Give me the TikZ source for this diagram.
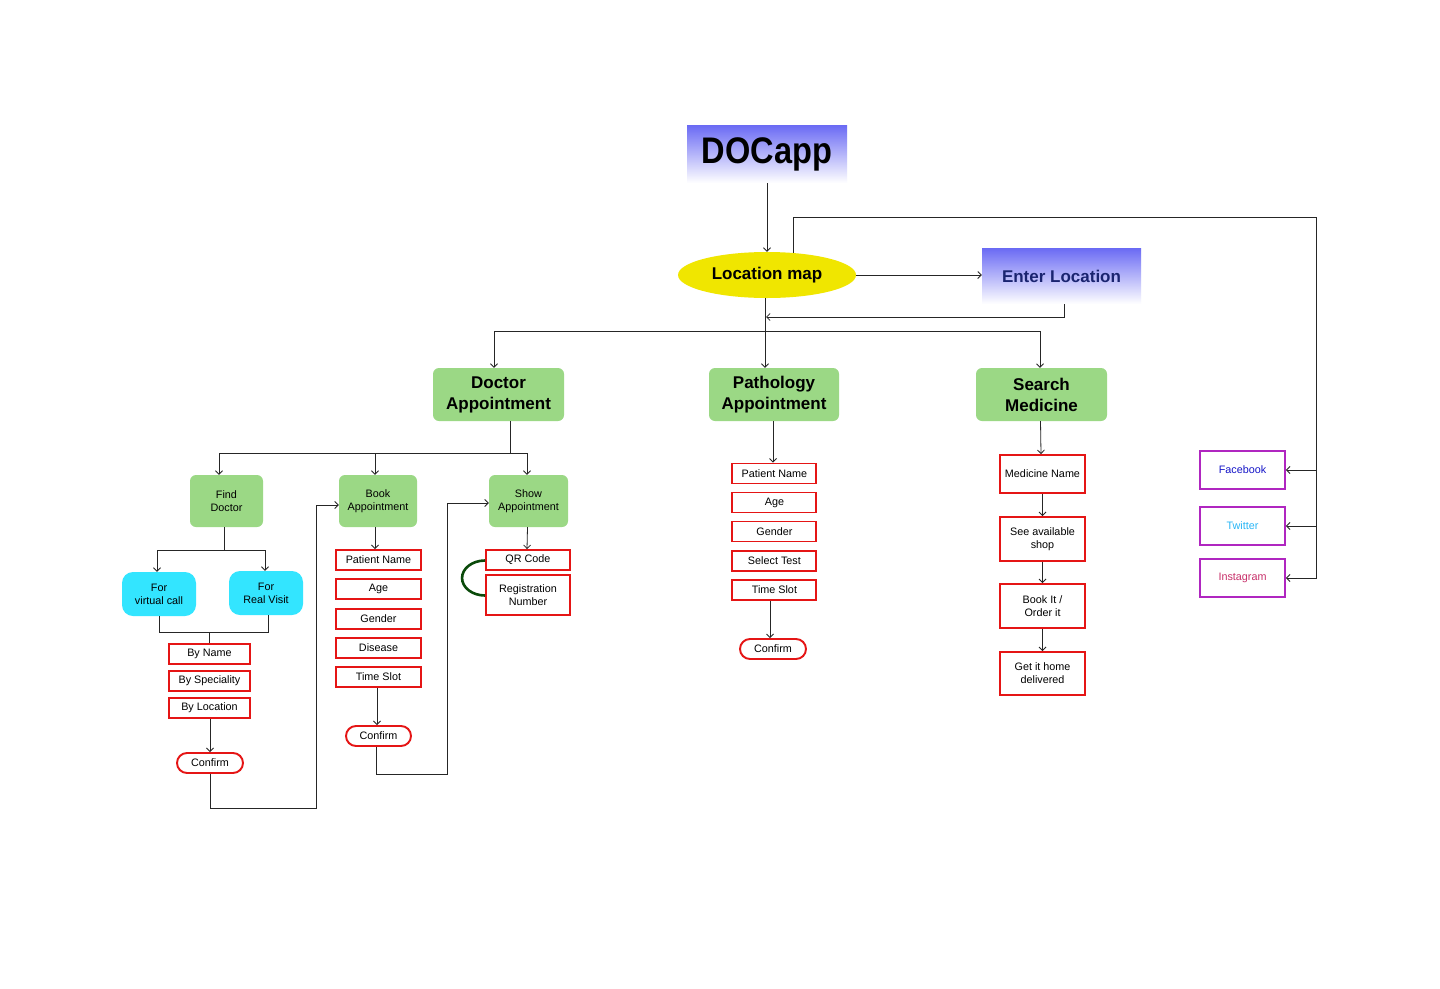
\documentclass[tikz,border=0pt]{standalone}
\usepackage{fontspec}
\setmainfont{Liberation Sans}
\usetikzlibrary{shapes.geometric,arrows.meta}
\definecolor{greenc}{HTML}{9BD885}
\definecolor{cyanc}{HTML}{33E5FF}
\definecolor{redc}{HTML}{E51515}
\definecolor{purpc}{HTML}{B026C0}
\definecolor{yellowc}{HTML}{F0E600}
\definecolor{bluec}{HTML}{6A6AF4}
\definecolor{navyc}{HTML}{1A2470}
\definecolor{fbc}{HTML}{1515C8}
\definecolor{twc}{HTML}{29B6F6}
\definecolor{igc}{HTML}{C8306A}
\definecolor{dgreen}{HTML}{0A4A0A}
\begin{document}
\begin{tikzpicture}[x=1pt,y=-1pt,
  conn/.style={draw=black!85, line width=0.8pt},
  arr/.style={conn, -{Straight Barb[length=3.5pt,width=7pt]}},
  bigtxt/.style={font=\bfseries\fontsize{17}{21}\selectfont},
  smalltxt/.style={font=\fontsize{10.8}{13}\selectfont},
  gradbox/.style={top color=bluec, bottom color=white, middle color=bluec!50, draw=none, inner sep=0, align=center},
  biggreen/.style={fill=greenc, draw=none, rounded corners=6pt, inner sep=0, align=center, bigtxt, minimum width=131pt, minimum height=53pt},
  smallgreen/.style={fill=greenc, draw=none, rounded corners=6pt, inner sep=0, align=center, smalltxt, minimum height=52pt},
  cyanbox/.style={fill=cyanc, draw=none, rounded corners=11pt, inner sep=0, align=center, smalltxt, minimum width=74pt, minimum height=44pt},
  redbox/.style={draw=redc, line width=1.9pt, fill=white, inner sep=0, align=center, smalltxt, minimum height=20pt},
  pill/.style={redbox, rounded corners=10pt, minimum width=66pt},
  social/.style={draw=purpc, line width=1.9pt, fill=white, inner sep=0, align=center, smalltxt, minimum width=85pt, minimum height=38pt}
]
\fill[white] (0,0) rectangle (1440,988);
\useasboundingbox (0,0) rectangle (1440,988);

% top
\node[gradbox, minimum width=160pt, minimum height=58pt, font=\bfseries\fontsize{37}{40}\selectfont] (docapp) at (767,154) {\scalebox{0.88}[1]{DOCapp}};
\node[ellipse, fill=yellowc, draw=none, minimum width=178pt, minimum height=46pt, inner sep=0, bigtxt] (locmap) at (767,275) {Location map};
\node[gradbox, minimum width=159pt, minimum height=56pt, bigtxt, text=navyc] (enterloc) at (1061.5,276) {Enter Location};

% main
\node[biggreen] (docapt) at (498.5,394.5) {Doctor\\Appointment};
\node[biggreen, minimum width=130pt] (pathapt) at (774,394.5) {Pathology\\Appointment};
\node[biggreen] (searchmed) at (1041.5,394.5) {Search\\Medicine};

% doctor sub
\node[smallgreen, minimum width=73pt] (find) at (226.5,501) {Find\\Doctor};
\node[smallgreen, minimum width=78pt] (book) at (378,501) {Book\\Appointment};
\node[smallgreen, minimum width=79pt] (show) at (528.5,501) {Show\\Appointment};

\node[cyanbox] (virt) at (159,594) {For\\virtual call};
\node[cyanbox] (real) at (266,593) {For\\Real Visit};

\node[redbox, minimum width=81pt] (byname) at (209.5,654) {By Name};
\node[redbox, minimum width=81pt] (byspec) at (209.5,681) {By Speciality};
\node[redbox, minimum width=81pt] (byloc) at (209.5,708) {By Location};
\node[pill] (conf1) at (210,763) {Confirm};

\node[redbox, minimum width=85pt] (bpn) at (378.5,560) {Patient Name};
\node[redbox, minimum width=85pt] (bage) at (378.5,589) {Age};
\node[redbox, minimum width=85pt] (bgen) at (378.5,619) {Gender};
\node[redbox, minimum width=85pt] (bdis) at (378.5,648) {Disease};
\node[redbox, minimum width=85pt] (bts) at (378.5,677) {Time Slot};
\node[pill, minimum width=65pt] (conf2) at (378.5,736) {Confirm};

\node[redbox, minimum width=84pt] (qr) at (528,560) {QR Code};
\node[redbox, minimum width=84pt, minimum height=40pt] (reg) at (528,595) {Registration\\Number};

% pathology sub
\node[redbox, minimum width=84pt] (ppn) at (774.4,473.5) {Patient Name};
\node[redbox, minimum width=84pt] (page) at (774.4,502.5) {Age};
\node[redbox, minimum width=84pt] (pgen) at (774.4,531.5) {Gender};
\node[redbox, minimum width=84pt] (ptest) at (774.4,561) {Select Test};
\node[redbox, minimum width=84pt] (pts) at (774.4,590) {Time Slot};
\node[pill] (conf3) at (773,649) {Confirm};

% medicine sub
\node[redbox, minimum width=85pt, minimum height=38pt] (mname) at (1042.5,474) {Medicine Name};
\node[redbox, minimum width=85pt, minimum height=44pt] (shop) at (1042.5,539) {See available\\shop};
\node[redbox, minimum width=85pt, minimum height=44pt] (order) at (1042.5,606) {Book It /\\Order it};
\node[redbox, minimum width=85pt, minimum height=43pt] (deliv) at (1042.5,673.5) {Get it home\\delivered};

% social
\node[social, text=fbc] (fb) at (1242.5,470) {Facebook};
\node[social, text=twc] (tw) at (1242.5,526) {Twitter};
\node[social, text=igc] (ig) at (1242.5,578) {Instagram};

% connectors top
\draw[arr] (docapp.south) -- (locmap.north);
\draw[arr] (locmap.east) -- (locmap.east -| enterloc.west);
\coordinate (j1) at (766,317);
\draw[arr] ([xshift=2.5pt]enterloc.south) |- (j1);
\draw[arr] ([xshift=-2pt]locmap.south) -- ([xshift=-2pt]locmap.south |- pathapt.north);
\coordinate (bus) at (765,331);
\draw[arr] (bus) -| ([xshift=-4.5pt]docapt.north);
\draw[arr] (bus) -| ([xshift=-1.5pt]searchmed.north);

% social rail
\coordinate (rail) at (1316,217);
\draw[arr] (locmap.40) |- (rail) |- (ig.east);
\draw[arr] (rail |- fb.east) -- (fb.east);
\draw[arr] (rail |- tw.east) -- (tw.east);

% doctor
\coordinate (dbus) at (510,453);
\draw[conn] (docapt.south -| dbus) -- (dbus);
\draw[arr] (dbus) -| ([xshift=-7.5pt]find.north);
\draw[arr] (dbus) -| ([xshift=-3pt]book.north);
\draw[arr] (dbus) -| ([xshift=-1.5pt]show.north);

\coordinate (fbus) at (224,550);
\draw[conn] (find.south -| fbus) -- (fbus);
\draw[arr] (fbus) -| ([xshift=-2pt]virt.north);
\draw[arr] (fbus) -| ([xshift=-1pt]real.north);

\coordinate (mbus) at (209,632);
\draw[conn] (virt.south) |- (mbus);
\draw[conn] ([xshift=2pt]real.south) |- (mbus);
\draw[conn] (mbus) -- (mbus |- byname.north);
\draw[arr] (byloc.south -| conf1.north) -- (conf1.north);

\coordinate (c1a) at (316,808);
\draw[arr] (conf1.south) |- (c1a) |- ([yshift=-4pt]book.west);
\draw[arr] (book.south -| 375,0) -- (bpn.north -| 375,0);
\draw[arr] (bts.south -| 377,0) -- (conf2.north -| 377,0);
\coordinate (c2a) at (447,774);
\draw[arr] ([xshift=-2pt]conf2.south) |- (c2a) |- ([yshift=-2pt]show.west);
\draw[arr] ([xshift=-1pt]show.south) -- ([xshift=-1pt]qr.north);
\draw[dgreen, line width=2.6pt] ([yshift=-0.5pt]qr.west) arc[start angle=270, end angle=90, x radius=23, y radius=17.5];

% pathology
\draw[arr] ([xshift=-1pt]pathapt.south) -- ([xshift=-1.4pt]ppn.north);
\draw[arr] (pts.south -| conf3.north) ++(-3,0) -- ([xshift=-3pt]conf3.north);

% medicine
\draw[arr] ([xshift=-1pt]searchmed.south) -- ([xshift=-1.5pt]mname.north);
\draw[arr] (mname.south) -- (shop.north);
\draw[arr] (shop.south) -- (order.north);
\draw[arr] (order.south) -- (deliv.north);
\end{tikzpicture}
\end{document}
